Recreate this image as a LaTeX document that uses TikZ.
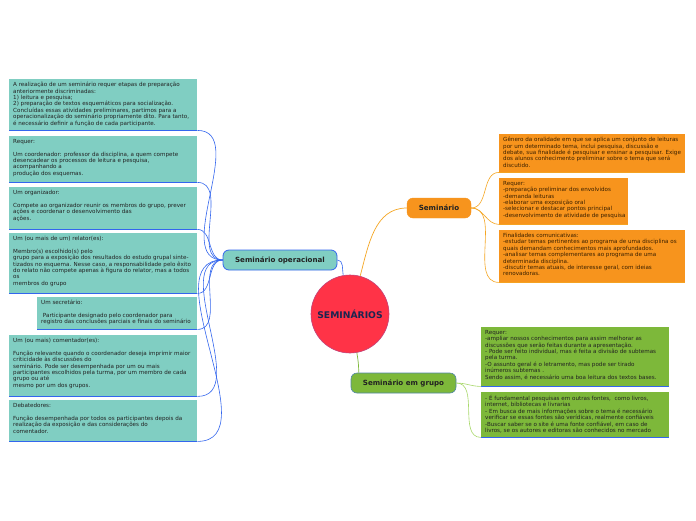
\documentclass[tikz,border=0pt]{standalone}
\usepackage{fontspec}
\setmainfont{DejaVu Sans}
\definecolor{tealf}{HTML}{80CEC2}
\definecolor{blueln}{HTML}{3366EE}
\definecolor{orgf}{HTML}{F7941D}
\definecolor{orgln}{HTML}{F5A623}
\definecolor{grnf}{HTML}{7DB83A}
\definecolor{grnln}{HTML}{A8D86A}
\definecolor{redf}{HTML}{FF3347}
\definecolor{navy}{HTML}{1A2550}
\definecolor{txtg}{HTML}{222222}
\definecolor{txto}{HTML}{3A2000}
\begin{document}
\begin{tikzpicture}[x=1pt,y=-1pt,
  txt/.style={font=\fontsize{5.6}{6.4}\selectfont, align=left, inner sep=0pt, anchor=north west, text=txtg},
  otxt/.style={txt, text=txto},
  boxbase/.style={anchor=north west, inner sep=0pt, draw=none},
  tealbox/.style={boxbase, fill=tealf},
  orgbox/.style={boxbase, fill=orgf},
  grnbox/.style={boxbase, fill=grnf},
  bline/.style={blueln, line width=1pt},
  oline/.style={orgln, line width=0.6pt},
  gline/.style={grnln, line width=0.6pt},
  conn/.style={blueln, line width=0.6pt},
  topic/.style={rounded corners=6pt, minimum height=20pt, inner sep=0pt, font=\fontsize{7.1}{8}\selectfont\bfseries, text=txtg}
]
\useasboundingbox[fill=white] (0,0) rectangle (696,520);

% central
\node[circle, fill=redf, draw=redf!70!blueln, line width=0.6pt, minimum size=78pt, inner sep=0pt,
      font=\fontsize{9.2}{10}\selectfont\bfseries, text=navy] (c) at (350,314) {SEMINÁRIOS};

% topics
\node[topic, fill=tealf, draw=blueln, line width=0.8pt, minimum width=114pt] (op) at (280,260) {Seminário operacional};
\node[topic, fill=orgf, draw=orgf, minimum width=64pt] (sem) at (439,208) {Seminário};
\node[topic, fill=grnf, draw=blueln!60!grnf, line width=0.6pt, minimum width=105pt] (grp) at (403.5,383) {Seminário em grupo};

% left boxes
\node[tealbox, minimum width=188pt, minimum height=51pt] (l1) at (9,79) {};
\node[txt] (l1t) at ([shift={(4,3)}]l1.north west) {A realização de um seminário requer etapas de preparação\\anteriormente discriminadas:\\1) leitura e pesquisa;\\2) preparação de textos esquemáticos para socialização.\\Concluídas essas atividades preliminares, partimos para a\\operacionalização do seminário propriamente dito. Para tanto,\\é necessário definir a função de cada participante.};

\node[tealbox, minimum width=188pt, minimum height=46pt] (l2) at (9,136) {};
\node[txt] (l2t) at ([shift={(4,3)}]l2.north west) {Requer:\\[6.4pt]Um coordenador: professor da disciplina, a quem compete\\desencadear os processos de leitura e pesquisa,\\acompanhando a\\produção dos esquemas.};

\node[tealbox, minimum width=188pt, minimum height=42pt] (l3) at (9,187) {};
\node[txt] (l3t) at ([shift={(4,3)}]l3.north west) {Um organizador:\\[6.4pt]Compete ao organizador reunir os membros do grupo, prever\\ações e coordenar o desenvolvimento das\\ações.};

\node[tealbox, minimum width=188pt, minimum height=60pt] (l4) at (9,233) {};
\node[txt] (l4t) at ([shift={(4,3)}]l4.north west) {Um (ou mais de um) relator(es):\\[6.4pt]Membro(s) escolhido(s) pelo\\grupo para a exposição dos resultados do estudo grupal sinte-\\tizados no esquema. Nesse caso, a responsabilidade pelo êxito\\do relato não compete apenas à figura do relator, mas a todos\\os\\membros do grupo};

\node[tealbox, minimum width=160pt, minimum height=32pt] (l5) at (37,297) {};
\node[txt] (l5t) at ([shift={(4,3)}]l5.north west) {Um secretário:\\[6.4pt]\ Participante designado pelo coordenador para\\registro das conclusões parciais e finais do seminário};

\node[tealbox, minimum width=188pt, minimum height=61pt] (l6) at (9,335) {};
\node[txt] (l6t) at ([shift={(4,3)}]l6.north west) {Um (ou mais) comentador(es):\\[6.4pt]Função relevante quando o coordenador deseja imprimir maior\\criticidade às discussões do\\seminário. Pode ser desempenhada por um ou mais\\participantes escolhidos pela turma, por um membro de cada\\grupo ou até\\mesmo por um dos grupos.};

\node[tealbox, minimum width=188pt, minimum height=41pt] (l7) at (9,400) {};
\node[txt] (l7t) at ([shift={(4,3)}]l7.north west) {Debatedores:\\[6.4pt]Função desempenhada por todos os participantes depois da\\realização da exposição e das considerações do\\comentador.};

\foreach \b in {l1,l2,l3,l4,l5,l6,l7}{
  \draw[bline] (\b.south west) -- (\b.south east);
  \draw[conn] (op.west) to[out=180,in=0] (\b.south east);
}

% orange boxes
\node[orgbox, minimum width=186pt, minimum height=38pt] (o1) at (499,134) {};
\node[otxt] (o1t) at ([shift={(4,3)}]o1.north west) {Gênero da oralidade em que se aplica um conjunto de leituras\\por um determinado tema, inclui pesquisa, discussão e\\debate, sua finalidade é pesquisar e ensinar a pesquisar. Exige\\dos alunos conhecimento preliminar sobre o tema que será\\discutido.};

\node[orgbox, minimum width=129pt, minimum height=46pt] (o2) at (499,178) {};
\node[otxt] (o2t) at ([shift={(4,3)}]o2.north west) {Requer:\\-preparação preliminar dos envolvidos\\-demanda leituras\\-elaborar uma exposição oral\\-selecionar e destacar pontos principal\\-desenvolvimento de atividade de pesquisa};

\node[orgbox, minimum width=186pt, minimum height=52pt] (o3) at (499,230) {};
\node[otxt] (o3t) at ([shift={(4,3)}]o3.north west) {Finalidades comunicativas:\\-estudar temas pertinentes ao programa de uma disciplina os\\quais demandam conhecimentos mais aprofundados.\\-analisar temas complementares ao programa de uma\\determinada disciplina.\\-discutir temas atuais, de interesse geral, com ideias\\renovadoras.};

\foreach \b in {o1,o2,o3}{
  \draw[orgln!80!orgf, line width=1pt] (\b.south west) -- (\b.south east);
  \draw[oline] (sem.east) to[out=0,in=180] (\b.south west);
}

% green boxes
\node[grnbox, minimum width=188pt, minimum height=59pt] (g1) at (481,327) {};
\node[txt] (g1t) at ([shift={(4,3)}]g1.north west) {Requer:\\-ampliar nossos conhecimentos para assim melhorar as\\discussões que serão feitas durante a apresentação.\\- Pode ser feito individual, mas é feita a divisão de subtemas\\pela turma.\\-O assunto geral é o letramento, mas pode ser tirado\\inúmeros subtemas .\\Sendo assim, é necessário uma boa leitura dos textos bases.};

\node[grnbox, minimum width=188pt, minimum height=45pt] (g2) at (481,392) {};
\node[txt] (g2t) at ([shift={(4,3)}]g2.north west) {- É fundamental pesquisas em outras fontes,\ \ como livros,\\internet, bibliotecas e livrarias\\- Em busca de mais informações sobre o tema é necessário\\verificar se essas fontes são verídicas, realmente confiáveis\\-Buscar saber se o site é uma fonte confiável, em caso de\\livros, se os autores e editoras são conhecidos no mercado};

\foreach \b in {g1,g2}{
  \draw[bline] (\b.south west) -- (\b.south east);
  \draw[gline] (grp.east) to[out=0,in=180] (\b.south west);
}

% main connectors
\draw[conn] (op.east) to[out=0,in=100] (c.100);
\draw[orgln, line width=0.7pt] (c.75) to[out=75,in=180] (sem.west);
\draw[grnf, line width=0.7pt] (c.-80) to[out=-80,in=90] ([xshift=8pt]grp.north west);
\end{tikzpicture}
\end{document}
